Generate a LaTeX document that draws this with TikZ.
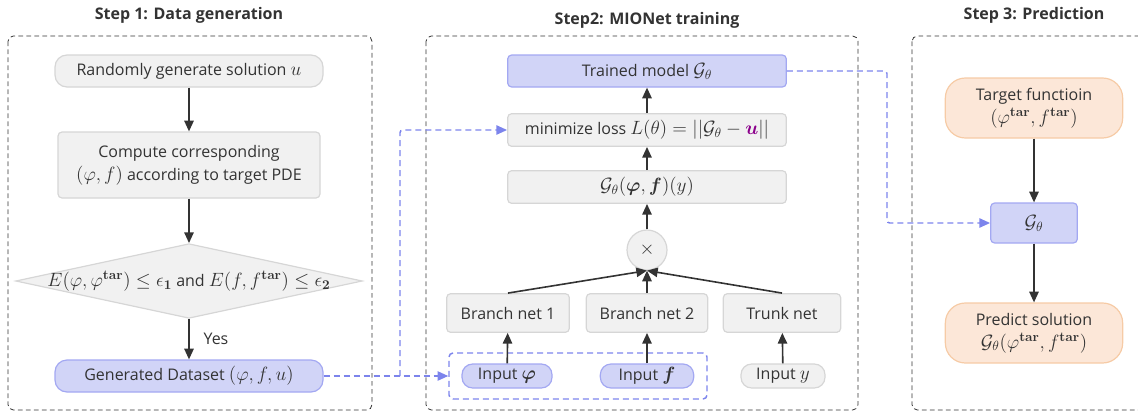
\documentclass[tikz,border=0pt]{standalone}
\usepackage[no-math]{fontspec}
\setmainfont{Open Sans}
\usepackage{amsmath, amssymb}
\usepackage{bm}
\DeclareMathSizes{12}{14.5}{10}{7.5}
\usepackage{tikz}
\usetikzlibrary{positioning}
\usetikzlibrary{arrows.meta}
\usetikzlibrary{shapes.geometric}

\definecolor{txtgray}{HTML}{333333}
\definecolor{boxgray}{HTML}{F1F1F1}
\definecolor{linegray}{HTML}{D6D6D6}
\definecolor{boxblue}{HTML}{D1D4F7}
\definecolor{lineblue}{HTML}{A3A8F2}
\definecolor{flowblue}{HTML}{7C84EC}
\definecolor{boxorange}{HTML}{FCE7D8}
\definecolor{lineorange}{HTML}{F6CBA6}
\definecolor{lossu}{HTML}{8B008B}

\tikzset{
  every node/.style={text=txtgray, font=\fontsize{12}{17}\selectfont},
  graybox/.style={draw=linegray, fill=boxgray, line width=0.9pt, rounded corners=3pt, align=center, inner sep=2pt},
  bluebox/.style={graybox, draw=lineblue, fill=boxblue},
  orangebox/.style={graybox, draw=lineorange, fill=boxorange, rounded corners=15pt},
  decision/.style={diamond, draw=linegray, fill=boxgray, line width=0.9pt, minimum width=260pt, minimum height=56pt, inner sep=0pt},
  arr/.style={draw=txtgray, line width=1.2pt, -{Triangle[length=8pt,width=7pt]}},
  flow/.style={draw=flowblue, line width=1.1pt, dash pattern=on 4.5pt off 3pt, rounded corners=2pt, -{Triangle[length=8pt,width=7pt]}},
  frame/.style={draw=txtgray, line width=0.6pt, dash pattern=on 3.5pt off 2.5pt, rounded corners=4pt},
  title/.style={font=\fontsize{12}{15}\selectfont\bfseries},
}

\begin{document}
\begin{tikzpicture}[x=0.75pt, y=-0.75pt]
\useasboundingbox (0,0) rectangle (1138,411);

% frames and titles
\draw[frame] (8,36) rectangle (372,410);
\draw[frame] (426,36) rectangle (858,410);
\draw[frame] (912,36) rectangle (1170,410);
\node[title] (t1) at (189,15) {Step 1: Data generation};
\node[title] (t2) at (647,20) {Step2: MIONet training};
\node[title] (t3) at (1034,15) {Step 3: Prediction};

% step 1
\node[graybox, rounded corners=9pt, minimum width=201pt, minimum height=24pt] (gen) at (189,71) {Randomly generate solution $u$};
\node[graybox, minimum width=196.5pt, minimum height=49.5pt] (comp) at (189,165) {Compute corresponding\\$(\varphi,f)$ according to target PDE};
\node[decision] (cond) at (189,281) {};
\node (condtxt) at (cond) {$E(\varphi,\varphi^{\mathbf{tar}})\le\epsilon_{\mathbf{1}}$ and $E(f,f^{\mathbf{tar}})\le\epsilon_{\mathbf{2}}$};
\node[bluebox, rounded corners=9pt, minimum width=201pt, minimum height=24pt] (data) at (189,376) {Generated Dataset $(\varphi,f,u)$};
\draw[arr] (gen) -- (comp);
\draw[arr] (comp) -- (cond);
\draw[arr] (cond) -- node[right=7pt] (yes) {Yes} (data);

% step 2
\node[bluebox, minimum width=209pt, minimum height=24pt] (model) at (647,71) {Trained model $\mathcal{G}_\theta$};
\node[graybox, minimum width=209pt, minimum height=24.5pt] (loss) at (647,130) {minimize loss $L(\theta)=||\mathcal{G}_\theta-\textcolor{lossu}{\bm{u}}||$};
\node[graybox, minimum width=209pt, minimum height=24.5pt] (gout) at (647,187) {$\mathcal{G}_\theta(\bm{\varphi},\bm{f})(y)$};
\node[graybox, circle, minimum size=30pt, inner sep=0pt] (prod) at (647,250) {$\times$};
\node[graybox, minimum width=92pt, minimum height=29pt] (br1) at (508,313) {Branch net 1};
\node[graybox, minimum width=91pt, minimum height=29pt] (br2) at (647,313) {Branch net 2};
\node[graybox, minimum width=88pt, minimum height=29pt] (trunk) at (782,313) {Trunk net};
\node[draw=flowblue, line width=1.1pt, dash pattern=on 4.5pt off 3pt, rounded corners=3pt, minimum width=193.5pt, minimum height=34.5pt] (grp) at (578,376) {};
\node[bluebox, rounded corners=8pt, minimum width=67.5pt, minimum height=18pt, inner sep=1pt] (inphi) at (507,376) {Input $\bm{\varphi}$};
\node[bluebox, rounded corners=8pt, minimum width=70pt, minimum height=18pt, inner sep=1pt] (inf) at (647,376) {Input $\bm{f}$};
\node[graybox, rounded corners=8pt, minimum width=63pt, minimum height=18pt, inner sep=1pt] (iny) at (783,376) {Input $y$};
\draw[arr] (inphi) -- (br1);
\draw[arr] (inf) -- (br2);
\draw[arr] (iny) -- (trunk);
\draw[arr] (br1.north) -- (prod.south);
\draw[arr] (br2.north) -- (prod.south);
\draw[arr] (trunk.north) -- (prod.south);
\draw[arr] (prod) -- (gout);
\draw[arr] (gout) -- (loss);
\draw[arr] (loss) -- (model);

% step 3
\node[orangebox, minimum width=133pt, minimum height=45pt] (target) at (1034,108) {Target functioin\\$(\varphi^{\mathbf{tar}},f^{\mathbf{tar}})$};
\node[bluebox, minimum width=65pt, minimum height=30pt] (gpred) at (1034,223) {$\mathcal{G}_\theta$};
\node[orangebox, minimum width=133pt, minimum height=45pt] (pred) at (1034,333) {Predict solution\\$\mathcal{G}_\theta(\varphi^{\mathbf{tar}},f^{\mathbf{tar}})$};
\draw[arr] (target) -- (gpred);
\draw[arr] (gpred) -- (pred);

% dataset and model links
\coordinate (split) at (400,376);
\coordinate (bend) at (887,71);
\draw[flow] (data.east) -- (grp.west);
\draw[flow] (split) |- (loss.west);
\draw[flow] (model.east) -- (bend) |- (gpred.west);
\end{tikzpicture}
\end{document}
